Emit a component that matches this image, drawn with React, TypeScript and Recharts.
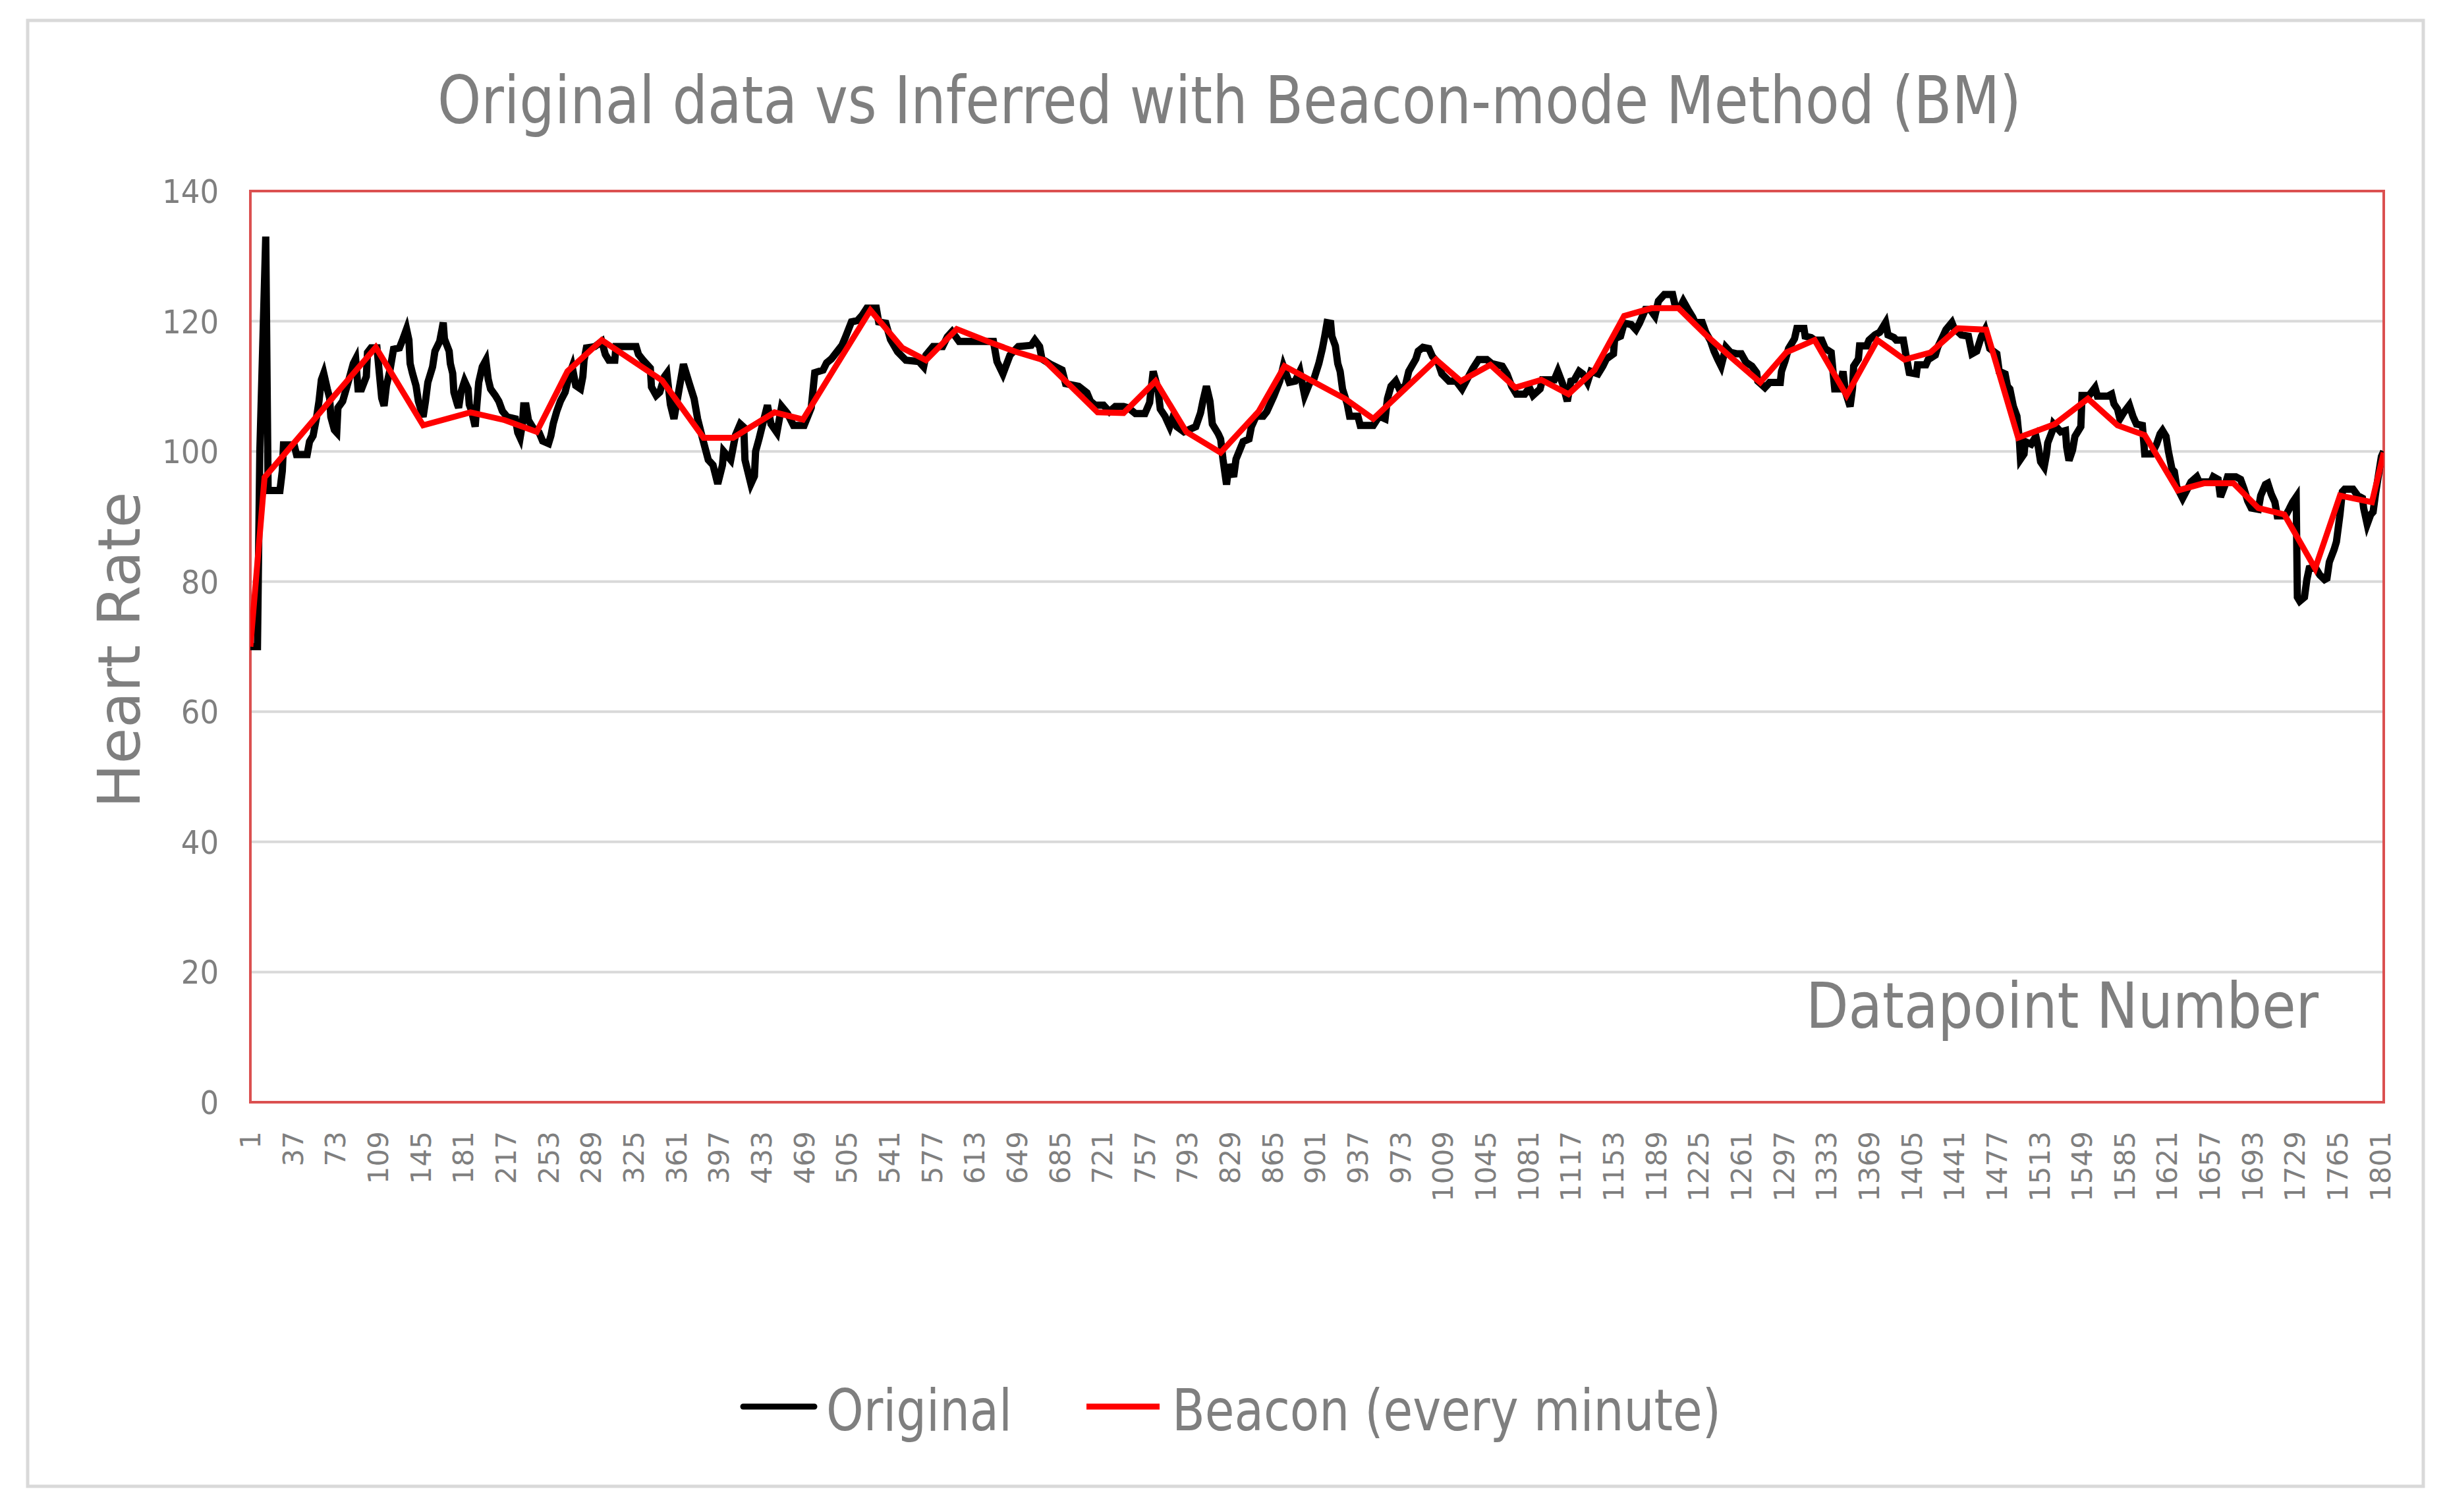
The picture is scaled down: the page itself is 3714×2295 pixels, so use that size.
import React from "react";
import { LineChart, Line, XAxis, YAxis, CartesianGrid, ReferenceArea } from "recharts";

// Original heart rate trace at its turning points
const ORIGINAL_X = [
  1, 7, 9, 14, 16, 26, 28, 29, 38, 40, 49, 51, 54, 57, 59, 61, 63, 66, 68, 69,
  72, 74, 75, 79, 82, 85, 88, 90, 92, 95, 99, 100, 103, 108, 110, 112, 114, 116, 119, 122,
  127, 130, 133, 135, 136, 138, 141, 143, 147, 149, 151, 155, 157, 161, 163, 164, 165, 169, 170, 172,
  173, 176, 177, 179, 182, 185, 186, 188, 191, 192, 194, 197, 200, 202, 204, 208, 211, 214, 218, 225,
  227, 229, 231, 232, 234, 236, 240, 245, 248, 253, 255, 257, 260, 263, 267, 269, 271, 273, 276, 280,
  282, 283, 285, 292, 298, 301, 304, 309, 310, 327, 329, 333, 339, 340, 344, 347, 351, 353, 356, 359,
  367, 372, 376, 379, 383, 388, 392, 396, 400, 401, 407, 411, 415, 418, 419, 424, 427, 428, 431, 434,
  438, 441, 446, 450, 455, 460, 469, 475, 478, 485, 488, 492, 501, 504, 509, 514, 518, 522, 530, 532,
  538, 542, 548, 555, 566, 570, 572, 578, 586, 590, 594, 600, 615, 629, 632, 637, 643, 650, 661, 664,
  668, 670, 677, 687, 690, 701, 708, 711, 715, 722, 727, 732, 739, 743, 749, 757, 761, 764, 768, 770,
  774, 778, 781, 784, 790, 800, 804, 806, 809, 812, 814, 819, 821, 823, 826, 828, 832, 834, 840, 845,
  847, 851, 857, 860, 862, 866, 871, 874, 879, 884, 888, 892, 896, 900, 904, 907, 909, 911, 914, 915,
  918, 920, 922, 924, 928, 930, 937, 939, 950, 955, 960, 962, 965, 969, 972, 977, 980, 986, 988, 992,
  997, 1000, 1005, 1008, 1014, 1020, 1025, 1034, 1039, 1046, 1050, 1059, 1063, 1067, 1071, 1078, 1082, 1085, 1091, 1093,
  1103, 1106, 1110, 1114, 1117, 1120, 1124, 1127, 1131, 1134, 1140, 1144, 1147, 1153, 1154, 1159, 1162, 1168, 1172, 1175,
  1180, 1184, 1188, 1191, 1196, 1203, 1205, 1209, 1212, 1216, 1220, 1222, 1228, 1231, 1235, 1238, 1241, 1244, 1248, 1252,
  1257, 1261, 1265, 1270, 1274, 1275, 1281, 1285, 1294, 1295, 1298, 1301, 1306, 1308, 1314, 1315, 1320, 1323, 1329, 1332,
  1337, 1340, 1344, 1347, 1349, 1353, 1355, 1356, 1360, 1361, 1367, 1369, 1374, 1378, 1383, 1385, 1390, 1392, 1398, 1400,
  1403, 1409, 1410, 1417, 1419, 1425, 1427, 1431, 1434, 1439, 1441, 1447, 1453, 1456, 1460, 1464, 1467, 1471, 1477, 1479,
  1484, 1486, 1488, 1491, 1494, 1496, 1497, 1500, 1501, 1506, 1510, 1512, 1514, 1517, 1519, 1520, 1524, 1525, 1531, 1535,
  1536, 1538, 1541, 1543, 1548, 1549, 1555, 1560, 1562, 1571, 1574, 1576, 1579, 1581, 1584, 1589, 1592, 1595, 1600, 1602,
  1608, 1612, 1615, 1617, 1620, 1622, 1625, 1627, 1629, 1634, 1638, 1641, 1646, 1648, 1658, 1660, 1664, 1666, 1670, 1672,
  1679, 1683, 1686, 1689, 1692, 1698, 1700, 1704, 1706, 1709, 1712, 1714, 1721, 1724, 1727, 1730, 1731, 1733, 1737, 1739,
  1741, 1746, 1750, 1754, 1756, 1758, 1762, 1764, 1767, 1769, 1771, 1778, 1782, 1786, 1787, 1790, 1793, 1795, 1797, 1800,
  1802, 1804,
];
const ORIGINAL_HR = [
  70, 70, 100, 133, 94, 94, 97, 101, 101, 99.5, 99.5, 101.5, 102.4, 105.3, 107.7, 111, 112, 109.6, 108.2, 105.3,
  103.3, 102.9, 106.7, 107.7, 109.6, 111.5, 113.5, 114.2, 109.6, 109.6, 111.5, 115.2, 115.9, 115.9, 112, 108.2, 107, 110.1, 112.5, 115.7,
  115.9, 117.3, 118.8, 117.1, 113.5, 112, 110.1, 107.7, 105.3, 107.7, 110.6, 113, 115.4, 116.9, 118.8, 119.8, 117.3, 115.4, 113.5, 112,
  109.1, 107.2, 106.7, 109.1, 110.8, 109.6, 107.2, 106.2, 103.8, 106.2, 110.6, 113, 114, 111.1, 109.6, 108.6, 107.7, 106.2, 105.3, 105,
  102.9, 102.1, 104.3, 107, 107, 104.8, 103.6, 102.9, 101.6, 101.2, 102.4, 104.3, 106.2, 107.7, 109.1, 110.6, 112, 113, 110.1, 109.6,
  111.5, 114, 115.9, 116.1, 116.9, 114.9, 114, 114, 116.1, 116.1, 114.9, 114, 112.8, 109.9, 108.6, 109.1, 111.5, 112, 107.2, 105,
  113.4, 110.4, 108.1, 105, 102.1, 98.7, 97.9, 95, 97.9, 100, 98.7, 102.5, 104.2, 103.7, 98.7, 95, 96.2, 100, 102, 104.2,
  107.1, 104.2, 102.9, 106.9, 105.8, 104, 104, 106.7, 112.1, 112.5, 113.6, 114.2, 116.3, 117.6, 119.9, 120.1, 120.9, 122, 122, 119.9,
  119.7, 117.2, 115.3, 114, 113.8, 113, 114.8, 116.1, 116.1, 117.6, 118.4, 116.9, 116.9, 116.9, 113.8, 111.9, 114.8, 116.1, 116.3, 117.1,
  116.1, 114.2, 113.4, 112.5, 110.4, 110, 109, 107.7, 107.1, 107.1, 106.1, 106.9, 106.9, 106.7, 105.8, 105.8, 107.5, 112.3, 109.6, 106.5,
  105.4, 103.8, 105.4, 103.8, 103, 103.8, 105.9, 107.7, 110, 107.7, 104.2, 102.7, 101.9, 98.8, 94.9, 98, 96.1, 98.8, 101.5, 101.9,
  103.8, 105.4, 105.4, 106.1, 106.9, 108.5, 110.8, 113.1, 110.6, 110.8, 112.3, 108.6, 110.4, 111.2, 113.5, 115.8, 117.7, 119.8, 119.7, 117.7,
  116.2, 113.5, 112.3, 109.6, 107.3, 105.4, 105.4, 104, 104, 105.4, 105, 108.1, 110, 110.8, 109.6, 110, 112.3, 114.2, 115.4, 116,
  115.8, 114.6, 113.5, 111.9, 110.8, 110.8, 109.6, 112.7, 114.1, 114.1, 113.5, 113.1, 111.9, 110, 108.8, 108.8, 109.8, 108.6, 109.6, 111,
  111, 112.3, 110.4, 107.7, 110.8, 111, 112.3, 111.9, 110.6, 112.3, 111.9, 113.1, 114.2, 115, 117.3, 117.7, 119.7, 119.5, 118.7, 119.7,
  121.8, 121.8, 120.8, 123.1, 124.1, 124.1, 122.5, 122, 123.1, 121.8, 120.6, 119.8, 119.8, 118.3, 117, 115.4, 114.2, 113.1, 116, 115.2,
  115, 115, 113.7, 113.1, 112.1, 110.8, 109.8, 110.6, 110.6, 112.3, 113.9, 115.8, 117.3, 118.9, 118.9, 117.7, 117.5, 117.1, 117.1, 115.8,
  115.2, 109.6, 109.6, 112.3, 109.2, 106.9, 109.6, 113.1, 114.2, 116.2, 116.2, 117.1, 117.9, 118.3, 119.8, 117.9, 117.5, 117.1, 117.1, 115,
  112.1, 111.9, 113.3, 113.3, 114.1, 114.8, 116, 117.5, 118.7, 119.8, 118.9, 117.9, 117.7, 115, 115.4, 117.7, 118.7, 115.8, 115, 112.3,
  111.9, 110, 109.6, 106.9, 105.4, 101.9, 98.8, 99.6, 101.5, 101.1, 102.3, 100.7, 98.4, 97.6, 99.6, 101.3, 103.2, 104.2, 103, 103.2,
  100.7, 98.6, 100.2, 102.3, 103.8, 108.6, 108.6, 109.8, 108.5, 108.5, 108.8, 107.3, 106.5, 105, 105.9, 107.1, 105.4, 104.2, 104, 99.6,
  99.6, 101.1, 102.7, 103.2, 102.3, 100, 97.3, 96.9, 94.6, 92.8, 94.2, 95.3, 96.1, 95.3, 95.3, 96.1, 95.7, 93, 94.9, 96.1,
  96.1, 95.7, 94.2, 92.4, 91.3, 91.1, 93.2, 94.9, 95.1, 93.4, 92.2, 90.1, 90.1, 91.1, 92.2, 93, 77.6, 77, 77.6, 80.3,
  82, 82.2, 81, 80.3, 80.5, 83, 84.9, 86.1, 90.3, 93.8, 94.2, 94.2, 93.2, 92.8, 91.3, 88.8, 90.3, 90.7, 93.4, 96.9,
  99.2, 100,
];

// Beacon (every minute) samples
const BEACON_X = [
  1, 13, 107, 147, 187, 216, 243, 269, 298, 349, 384, 409, 444, 468, 525, 552, 572, 598, 627, 648,
  672, 717, 739, 766, 792, 821, 853, 875, 926, 950, 1003, 1024, 1049, 1070, 1092, 1115, 1137, 1162, 1185, 1208,
  1231, 1254, 1277, 1299, 1323, 1350, 1376, 1399, 1421, 1444, 1468, 1495, 1526, 1554, 1579, 1602, 1630, 1652, 1677, 1698,
  1720, 1746, 1767, 1794, 1804,
];
const BEACON_HR = [
  70, 96, 116, 104, 106, 104.8, 103, 112.3, 117.1, 110.9, 102.1, 102.1, 106, 104.9, 121.7, 115.9, 114, 118.8, 116.7, 115.3,
  114, 106, 105.9, 110.8, 103, 99.8, 106.1, 113.1, 108.1, 105, 114.1, 110.8, 113.3, 109.8, 111, 108.8, 112.5, 120.8, 122, 122,
  117.9, 114.2, 110.6, 115.2, 117.1, 108.6, 117.1, 114.1, 115.2, 118.9, 118.7, 102.1, 104.2, 108.1, 104, 102.5, 94, 95.1, 95.1, 91.3,
  90.3, 82, 93.2, 92.2, 99.8,
];

const X_TICKS = [
  1, 37, 73, 109, 145, 181, 217, 253, 289, 325, 361, 397, 433, 469, 505, 541, 577, 613, 649, 685,
  721, 757, 793, 829, 865, 901, 937, 973, 1009, 1045, 1081, 1117, 1153, 1189, 1225, 1261, 1297, 1333, 1369, 1405,
  1441, 1477, 1513, 1549, 1585, 1621, 1657, 1693, 1729, 1765, 1801,
];
const Y_TICKS = [0, 20, 40, 60, 80, 100, 120, 140];

const original = ORIGINAL_X.map((x, i) => ({ x, hr: ORIGINAL_HR[i] }));
const beacon = BEACON_X.map((x, i) => ({ x, hr: BEACON_HR[i] }));

const GREY = "#7f7f7f";
const NARROW = "'Liberation Sans Narrow', 'Arial Narrow', 'DejaVu Sans Condensed', 'Liberation Sans', sans-serif";
const WIDE = "'DejaVu Sans', Verdana, sans-serif";

const XTick = ({ x, payload }: any) => (
  <text
    x={x}
    y={1717}
    dy="0.36em"
    transform={`rotate(-90, ${x}, 1717)`}
    textAnchor="end"
    fill={GREY}
    fontSize={42}
    fontFamily={WIDE}
  >
    {payload.value}
  </text>
);

const YTick = ({ y, payload }: any) => (
  <text x={332} y={y} dy="0.36em" textAnchor="end" fill={GREY} fontSize={50} fontFamily={NARROW}>
    {payload.value}
  </text>
);

const YTitle = ({ viewBox }: any) => {
  const cx = viewBox.x - 120;
  const cy = viewBox.y + viewBox.height / 2 + 5;
  return (
    <text
      x={cx}
      y={cy}
      dy="0.36em"
      transform={`rotate(-90, ${cx}, ${cy})`}
      textAnchor="middle"
      fill={GREY}
      fontSize={89}
      fontFamily={WIDE}
    >
      Heart Rate
    </text>
  );
};

const XTitle = ({ viewBox }: any) => (
  <text
    x={viewBox.x + viewBox.width - 877}
    y={viewBox.y - 113}
    textLength={778}
    lengthAdjust="spacingAndGlyphs"
    fill={GREY}
    fontSize={97}
    fontFamily={NARROW}
  >
    Datapoint Number
  </text>
);

export default function App() {
  return (
    <div style={{ position: "absolute", left: 0, top: 0, width: 3714, height: 2295, background: "#fff" }}>
      <LineChart width={3714} height={2295} margin={{ top: 290, right: 96, bottom: 522, left: 300 }}>
        <CartesianGrid vertical={false} stroke="#d9d9d9" strokeWidth={4} />
        <XAxis
          type="number"
          dataKey="x"
          domain={[1, 1804]}
          ticks={X_TICKS}
          interval={0}
          height={100}
          allowDataOverflow
          tick={<XTick />}
          tickLine={false}
          axisLine={false}
          label={<XTitle />}
        />
        <YAxis
          type="number"
          domain={[0, 140]}
          ticks={Y_TICKS}
          interval={0}
          width={80}
          tick={<YTick />}
          tickLine={false}
          axisLine={false}
          label={<YTitle />}
        />
        <ReferenceArea
          x1={1}
          x2={1804}
          y1={0}
          y2={140}
          fill="none"
          stroke="#db5050"
          strokeWidth={4}
          ifOverflow="visible"
        />
        <Line
          data={original}
          dataKey="hr"
          type="linear"
          stroke="#000000"
          strokeWidth={11}
          dot={false}
          activeDot={false}
          isAnimationActive={false}
        />
        <Line
          data={beacon}
          dataKey="hr"
          type="linear"
          stroke="#ff0000"
          strokeWidth={9}
          dot={false}
          activeDot={false}
          isAnimationActive={false}
        />
      </LineChart>
      <svg width={3714} height={2295} style={{ position: "absolute", left: 0, top: 0, pointerEvents: "none" }}>
        <rect x={42} y={31} width={3636} height={2225} fill="none" stroke="#d9d9d9" strokeWidth={5} />
        <text
          x={664}
          y={187}
          textLength={2404}
          lengthAdjust="spacingAndGlyphs"
          fill={GREY}
          fontSize={100}
          fontFamily={NARROW}
        >
          Original data vs Inferred with Beacon-mode Method (BM)
        </text>
        <line x1={1128} y1={2135} x2={1236} y2={2135} stroke="#000000" strokeWidth={9} strokeLinecap="round" />
        <text x={1254} y={2171} textLength={282} lengthAdjust="spacingAndGlyphs" fill={GREY} fontSize={87} fontFamily={NARROW}>
          Original
        </text>
        <line x1={1649} y1={2135} x2={1760} y2={2135} stroke="#ff0000" strokeWidth={9} />
        <text x={1779} y={2171} textLength={833} lengthAdjust="spacingAndGlyphs" fill={GREY} fontSize={87} fontFamily={NARROW}>
          Beacon (every minute)
        </text>
      </svg>
    </div>
  );
}
